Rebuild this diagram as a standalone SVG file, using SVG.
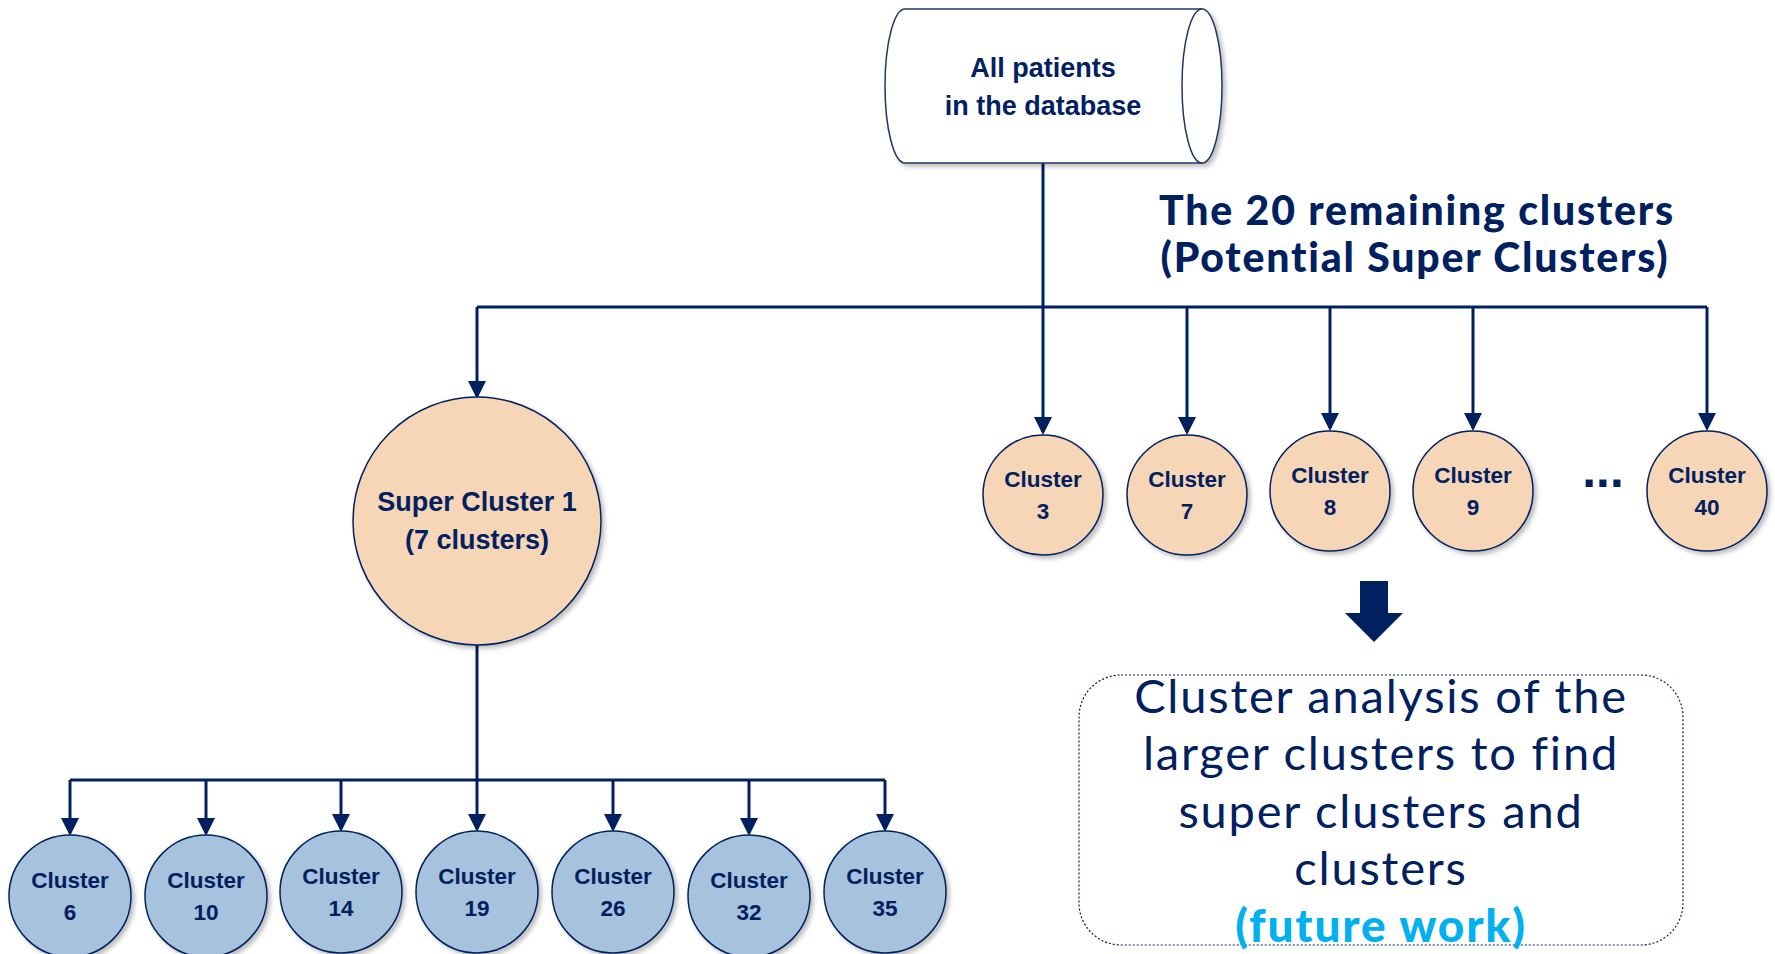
<svg xmlns="http://www.w3.org/2000/svg" width="1775" height="954" viewBox="0 0 1775 954">
<defs>
<style>
.conn{fill:none;stroke:#002060;stroke-width:3}
.orange{fill:#F7D5B7;stroke:#002060;stroke-width:1.5}
.blue{fill:#A6C2DD;stroke:#002060;stroke-width:1.5}
.lbl{font-family:"Liberation Sans",Arial,sans-serif;font-weight:bold;fill:#002060;text-anchor:middle}
.sm{font-size:22.5px}
.title{font-family:Lato,"Open Sans",sans-serif;font-weight:900;font-size:41px;letter-spacing:1.8px;fill:#002060;text-anchor:middle}
.box{font-family:Lato,"Open Sans",sans-serif;font-weight:400;font-size:47px;letter-spacing:1.8px;fill:#002060;text-anchor:middle}
.fw{font-family:Lato,"Open Sans",sans-serif;font-weight:900;font-size:46px;letter-spacing:1.8px;fill:#00B0F0;text-anchor:middle}
</style>
<marker id="ah" viewBox="0 0 18 18" markerWidth="18" markerHeight="18" refX="15" refY="9" orient="auto" markerUnits="userSpaceOnUse">
<path d="M0,0 L18,9 L0,18 Z" fill="#002060"/>
</marker>
<filter id="sh" x="-20%" y="-20%" width="140%" height="140%">
<feDropShadow dx="3" dy="3" stdDeviation="2" flood-color="#000" flood-opacity="0.25"/>
</filter>
</defs>
<rect width="1775" height="954" fill="#fff"/>

<g id="connectors">
<path class="conn" d="M1043,163 V307"/>
<path class="conn" d="M477,307 H1707"/>
<path class="conn" d="M477,307 V396" marker-end="url(#ah)"/>
<path class="conn" d="M1043,307 V432" marker-end="url(#ah)"/>
<path class="conn" d="M1187,307 V432" marker-end="url(#ah)"/>
<path class="conn" d="M1330,307 V428" marker-end="url(#ah)"/>
<path class="conn" d="M1473,307 V428" marker-end="url(#ah)"/>
<path class="conn" d="M1707,307 V428" marker-end="url(#ah)"/>
<path class="conn" d="M477,643 V780"/>
<path class="conn" d="M70,780 H885"/>
<path class="conn" d="M70,780 V833" marker-end="url(#ah)"/>
<path class="conn" d="M206,780 V833" marker-end="url(#ah)"/>
<path class="conn" d="M341,780 V829" marker-end="url(#ah)"/>
<path class="conn" d="M477,780 V829" marker-end="url(#ah)"/>
<path class="conn" d="M613,780 V829" marker-end="url(#ah)"/>
<path class="conn" d="M749,780 V833" marker-end="url(#ah)"/>
<path class="conn" d="M885,780 V829" marker-end="url(#ah)"/>
</g>

<g id="database">
<path d="M905,9 L1202,9 A20,77 0 0 1 1202,163 L905,163 A20,77 0 0 1 905,9 Z" fill="#fff" stroke="#1F3864" stroke-width="1.5" filter="url(#sh)"/>
<path d="M1202,9 A20,77 0 0 0 1202,163" fill="none" stroke="#1F3864" stroke-width="1.5"/>
<text class="lbl" x="1043" y="77" font-size="27">All patients</text>
<text class="lbl" x="1043" y="115" font-size="27">in the database</text>
</g>

<g id="title">
<text class="title" x="1417" y="225">The 20 remaining clusters</text>
<text class="title" x="1415" y="272">(Potential Super Clusters)</text>
</g>

<g id="super-cluster-1">
<circle class="orange" cx="477" cy="521" r="124" filter="url(#sh)"/>
<text class="lbl" x="477" y="511" font-size="27">Super Cluster 1</text>
<text class="lbl" x="477" y="549" font-size="27">(7 clusters)</text>
</g>

<g id="cluster-3">
<circle class="orange" cx="1043" cy="495" r="60" filter="url(#sh)"/>
<text class="lbl sm" x="1043" y="487">Cluster</text>
<text class="lbl sm" x="1043" y="519">3</text>
</g>
<g id="cluster-7">
<circle class="orange" cx="1187" cy="495" r="60" filter="url(#sh)"/>
<text class="lbl sm" x="1187" y="487">Cluster</text>
<text class="lbl sm" x="1187" y="519">7</text>
</g>
<g id="cluster-8">
<circle class="orange" cx="1330" cy="491" r="60" filter="url(#sh)"/>
<text class="lbl sm" x="1330" y="483">Cluster</text>
<text class="lbl sm" x="1330" y="515">8</text>
</g>
<g id="cluster-9">
<circle class="orange" cx="1473" cy="491" r="60" filter="url(#sh)"/>
<text class="lbl sm" x="1473" y="483">Cluster</text>
<text class="lbl sm" x="1473" y="515">9</text>
</g>
<g id="ellipsis">
<text class="lbl" x="1603" y="487" font-size="50">...</text>
</g>
<g id="cluster-40">
<circle class="orange" cx="1707" cy="491" r="60" filter="url(#sh)"/>
<text class="lbl sm" x="1707" y="483">Cluster</text>
<text class="lbl sm" x="1707" y="515">40</text>
</g>

<g id="cluster-6">
<circle class="blue" cx="70" cy="896" r="61" filter="url(#sh)"/>
<text class="lbl sm" x="70" y="888">Cluster</text>
<text class="lbl sm" x="70" y="920">6</text>
</g>
<g id="cluster-10">
<circle class="blue" cx="206" cy="896" r="61" filter="url(#sh)"/>
<text class="lbl sm" x="206" y="888">Cluster</text>
<text class="lbl sm" x="206" y="920">10</text>
</g>
<g id="cluster-14">
<circle class="blue" cx="341" cy="892" r="61" filter="url(#sh)"/>
<text class="lbl sm" x="341" y="884">Cluster</text>
<text class="lbl sm" x="341" y="916">14</text>
</g>
<g id="cluster-19">
<circle class="blue" cx="477" cy="892" r="61" filter="url(#sh)"/>
<text class="lbl sm" x="477" y="884">Cluster</text>
<text class="lbl sm" x="477" y="916">19</text>
</g>
<g id="cluster-26">
<circle class="blue" cx="613" cy="892" r="61" filter="url(#sh)"/>
<text class="lbl sm" x="613" y="884">Cluster</text>
<text class="lbl sm" x="613" y="916">26</text>
</g>
<g id="cluster-32">
<circle class="blue" cx="749" cy="896" r="61" filter="url(#sh)"/>
<text class="lbl sm" x="749" y="888">Cluster</text>
<text class="lbl sm" x="749" y="920">32</text>
</g>
<g id="cluster-35">
<circle class="blue" cx="885" cy="892" r="61" filter="url(#sh)"/>
<text class="lbl sm" x="885" y="884">Cluster</text>
<text class="lbl sm" x="885" y="916">35</text>
</g>

<g id="block-arrow">
<polygon points="1360,581 1388,581 1388,613 1403,613 1374,642 1345,613 1360,613" fill="#002060"/>
</g>

<g id="future-work">
<rect x="1079" y="675" width="604" height="270" rx="42" fill="none" stroke="#002060" stroke-width="1.2" stroke-dasharray="2,2"/>
<text class="box" x="1381" y="713">Cluster analysis of the</text>
<text class="box" x="1381" y="770">larger clusters to find</text>
<text class="box" x="1381" y="828">super clusters and</text>
<text class="box" x="1381" y="885">clusters</text>
<text class="fw" x="1381" y="942">(future work)</text>
</g>
</svg>
